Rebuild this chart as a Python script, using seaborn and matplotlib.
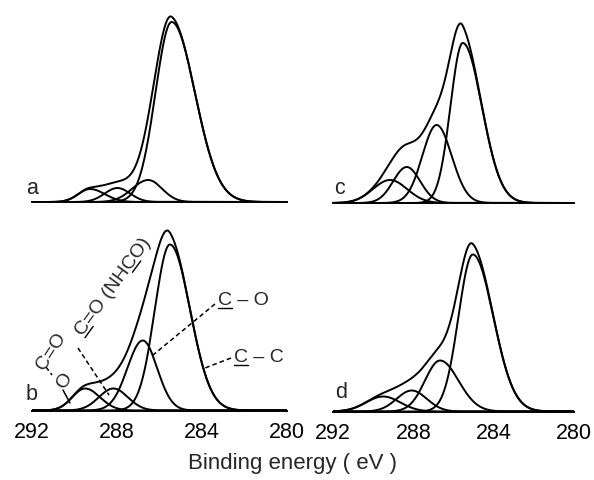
import numpy as np
import pandas as pd
import matplotlib
matplotlib.use("Agg")
import matplotlib.pyplot as plt
import seaborn as sns
from matplotlib.lines import Line2D
from matplotlib.transforms import IdentityTransform
from matplotlib.font_manager import FontProperties

# C1s fitted components, order: O-C=O, C=O, C-O, C-C
components = ["O-C=O", "C=O", "C-O", "C-C"]

pos_a = [289.27, 287.98, 286.53, 285.43]
height_a = [13, 14, 22, 180]
sig_hi_a = [0.55, 0.60, 0.75, 0.76]
sig_lo_a = [0.70, 0.60, 0.65, 1.10]

pos_b = [289.50, 288.17, 286.79, 285.51]
height_b = [22, 22, 70, 166]
sig_hi_b = [0.60, 0.68, 0.72, 0.71]
sig_lo_b = [0.70, 0.68, 0.68, 0.95]

pos_c = [289.16, 288.33, 286.84, 285.54]
height_c = [23, 36, 78, 160]
sig_hi_c = [0.85, 0.67, 0.71, 0.61]
sig_lo_c = [0.85, 0.67, 0.75, 0.95]

pos_d = [289.50, 288.08, 286.67, 285.04]
height_d = [15, 21, 51, 157]
sig_hi_d = [0.85, 0.75, 0.75, 0.71]
sig_lo_d = [0.85, 0.75, 0.92, 1.02]

ticks = [292, 288, 284, 280]

fits = {
    "a": (pos_a, height_a, sig_hi_a, sig_lo_a),
    "b": (pos_b, height_b, sig_hi_b, sig_lo_b),
    "c": (pos_c, height_c, sig_hi_c, sig_lo_c),
    "d": (pos_d, height_d, sig_hi_d, sig_lo_d),
}

energy = np.linspace(280, 292, 1201)


def peak(e, p, h, s_hi, s_lo):
    s = np.where(e > p, s_hi, s_lo)
    return h * np.exp(-0.5 * ((e - p) / s) ** 2)


rows = []
for panel, (pos, hgt, shi, slo) in fits.items():
    total = np.zeros_like(energy)
    for name, p, h, s1, s2 in zip(components, pos, hgt, shi, slo):
        y = peak(energy, p, h, s1, s2)
        total += y
        rows.append(pd.DataFrame({"panel": panel, "curve": name,
                                  "energy": energy, "counts": y}))
    rows.append(pd.DataFrame({"panel": panel, "curve": "envelope",
                              "energy": energy, "counts": total}))
df = pd.concat(rows, ignore_index=True)

sns.set_style("white")
plt.rcParams["font.family"] = ["Liberation Sans", "DejaVu Sans"]

W, H = 594, 480
fig = plt.figure(figsize=(W / 100, H / 100), dpi=100)

# axes rectangles in pixels: left x, right x, baseline y
boxes = {"a": (32, 287, 202), "c": (333, 574, 203),
         "b": (32, 287, 410.5), "d": (333, 574, 411.5)}
top = 195
axes = {}
for panel, (x0, x1, yb) in boxes.items():
    ax = fig.add_axes([x0 / W, (H - yb) / H, (x1 - x0) / W, top / H])
    sns.lineplot(data=df[df["panel"] == panel], x="energy", y="counts",
                 units="curve", estimator=None, color="black", lw=1.4, ax=ax)
    ax.set_xlim(292, 280)
    ax.set_ylim(0, top)
    ax.set_xlabel("")
    ax.set_ylabel("")
    ax.set_yticks([])
    sns.despine(ax=ax, left=True)
    ax.spines["bottom"].set_linewidth(1.4)
    ax.spines["bottom"].set_color("black")
    if panel in ("b", "d"):
        ax.set_xticks(ticks)
        ax.tick_params(axis="x", direction="inout", length=7, width=1.2,
                       labelsize=15.5, pad=5, colors="black")
    else:
        ax.set_xticks([])
    axes[panel] = ax

letter_pos = {"a": (292.0, 14), "c": (291.7, 15), "b": (292.0, 16.5), "d": (291.6, 18.5)}
for panel, (e, h) in letter_pos.items():
    axes[panel].text(e, h, panel, fontsize=15.5, ha="center", va="center",
                     clip_on=False)

# peak labels of panel b, placed in figure pixels (origin top left)
renderer = fig.canvas.get_renderer()
prop = FontProperties(family=["Liberation Sans", "DejaVu Sans"], size=14)


def width(sub):
    if not sub:
        return 0.0
    return renderer.get_text_width_height_descent(sub, prop, ismath=False)[0]


def seg(p, q, dashed=False):
    fig.add_artist(Line2D([p[0], q[0]], [H - p[1], H - q[1]],
                          transform=IdentityTransform(), color="black",
                          lw=1.1, ls=(0, (3, 2)) if dashed else "-"))


def label(cx, cy, s, angle=0, under=()):
    th = np.deg2rad(angle)
    u = np.array([np.cos(th), np.sin(th)])
    n = np.array([np.sin(th), -np.cos(th)])
    c = np.array([cx, H - cy])
    cap = 0.72 * 14 * 100 / 72
    start = c - width(s) / 2 * u + cap / 2 * n
    fig.text(start[0], start[1], s, transform=IdentityTransform(),
             fontproperties=prop, rotation=angle, rotation_mode="anchor",
             ha="left", va="baseline")
    for i in under:
        a = start + width(s[:i]) * u + 2.5 * n
        b = start + width(s[:i + 1]) * u + 2.5 * n
        fig.add_artist(Line2D([a[0], b[0]], [a[1], b[1]],
                              transform=IdentityTransform(), color="black", lw=1.0))


label(243, 298, "C – O", under=[0])
seg((215, 304), (153, 355), dashed=True)
label(259, 355, "C – C", under=[0])
seg((231, 358), (205, 368), dashed=True)
label(111.5, 285, "C=O (NHCO)", angle=54, under=[0, 7])
seg((78, 348), (109, 395), dashed=True)
label(49, 350, "C=O", angle=57)
seg((46, 367), (52, 375), dashed=True)
label(62, 380, "O", angle=57)
seg((63, 390), (70, 403))

fig.text(292 / W, 1 - 464 / H, "Binding energy ( eV )", fontsize=16,
         ha="center", va="center")

fig.savefig("out.png", dpi=100)
